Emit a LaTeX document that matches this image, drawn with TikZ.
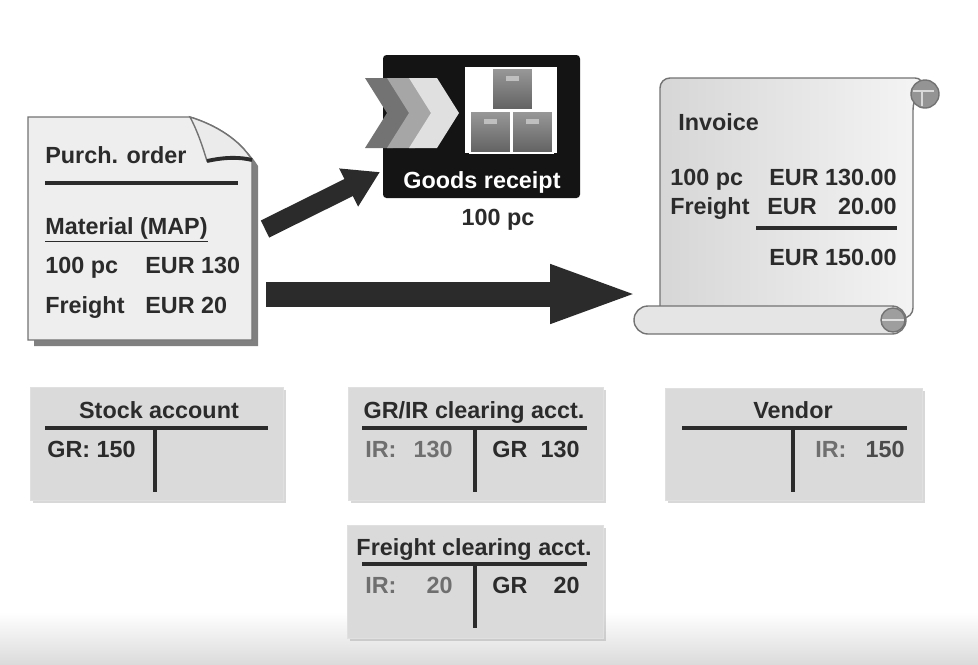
\documentclass[tikz,border=0pt]{standalone}
\usepackage{fontspec}
\setmainfont{Liberation Sans}
\usetikzlibrary{arrows.meta,shadows}

\definecolor{ink}{HTML}{2B2B2B}
\definecolor{irgray}{HTML}{6F6F6F}
\definecolor{paper}{HTML}{EEEEEE}
\definecolor{acctfill}{HTML}{DADADA}

\begin{document}
\begin{tikzpicture}[x=0.02cm, y=-0.02cm,
  every node/.style={inner sep=0pt, text=ink, font=\fontsize{13.3}{16}\selectfont\bfseries},
  lt/.style={anchor=base west},
  rt/.style={anchor=base east},
  ct/.style={anchor=base},
  acct/.style={fill=acctfill, draw=black!12,
    drop shadow={shadow xshift=1.5pt, shadow yshift=-1.5pt, opacity=.3}},
  tbar/.style={line width=2.2pt, ink},
  edge line/.style={draw=black!55, line width=0.8pt},
  fat/.style={line width=0.5cm, ink, -{Triangle[length=1.82cm, width=1.04cm]}},
  slim/.style={line width=0.38cm, ink, -{Triangle[length=0.7cm, width=0.8cm]}},
  crate/.style={top color=black!40, bottom color=black!62, draw=white, line width=0.6pt}
]
  \useasboundingbox (0,0) rectangle (978,664);
  \fill[white] (0,0) rectangle (978,664);
  \shade[top color=white, bottom color=black!14] (0,612) rectangle (978,664);

  % purchase order sheet with dog-ear
  \fill[black!50] (34,123) -- (196,123) .. controls (222,131) and (246,146) .. (258,166)
    -- (258,346) -- (34,346) -- cycle;
  \fill[paper, edge line] (28,117) -- (190,117) .. controls (216,125) and (240,140) .. (252,160)
    -- (252,340) -- (28,340) -- cycle;
  \fill[black!8, edge line] (190,117) .. controls (198,132) and (203,148) .. (207,161)
    .. controls (225,156) and (240,156) .. (252,160)
    .. controls (240,140) and (216,125) .. (190,117) -- cycle;
  \draw[line width=2.2pt, ink] (207,161) .. controls (225,157) and (240,157) .. (252,160);

  \node[lt] (po-title) at (45,163) {Purch. order};
  \draw[tbar] (45,183) -- (238,183);
  \node[lt] (po-mat) at (45,234) {\underline{Material (MAP)}};
  \node[lt] (po-qty) at (45,273) {100 pc};
  \node[lt] (po-val) at (145,273) {EUR 130};
  \node[lt] (po-frt) at (45,313) {Freight};
  \node[lt] (po-fval) at (145,313) {EUR 20};

  % goods receipt tile
  \fill[black!92, rounded corners=2pt] (383,55) rectangle (580,198);
  \foreach \x/\c in {365/black!55, 387/black!35, 409/black!12}
    \fill[\c] (\x,78) -- ++(28,0) -- ++(22,35) -- ++(-22,35) -- ++(-28,0) -- ++(22,-35) -- cycle;
  \fill[white] (465,67) rectangle (557,153);
  \foreach \x/\y in {492/68, 470/111, 512/111} {
    \shade[crate] (\x,\y) rectangle ++(41,42);
    \fill[black!25] (\x+14,\y+8) rectangle ++(13,5);
  }
  \node[ct, text=white] (gr) at (482,188) {Goods receipt};
  \node[ct] (gr-qty) at (498,225) {100 pc};

  % invoice scroll
  \shade[left color=black!16, right color=black!4, edge line, rounded corners=0.2cm]
    (660,318) -- (660,78) -- (925,78) -- (913,100) -- (913,318) -- cycle;
  \filldraw[fill=black!42, edge line] (925,94) circle (14);
  \draw[black!15, line width=0.8pt] (913,91) -- (934,91) (922,91) -- (922,106);
  \filldraw[fill=black!10, edge line, rounded corners=0.28cm] (634,306) rectangle (906,334);
  \filldraw[fill=black!38, edge line] (893,320) circle (12);
  \draw[black!12, line width=0.8pt] (882,320) -- (904,320);

  \node[lt] (inv-title) at (678,130) {Invoice};
  \node[lt] (inv-qty) at (670,185) {100 pc};
  \node[rt] (inv-val) at (897,185) {EUR 130.00};
  \node[lt] (inv-frt) at (670,214) {Freight};
  \node[lt] (inv-eur) at (767,214) {EUR};
  \node[rt] (inv-fval) at (897,214) {20.00};
  \draw[tbar] (756,228) -- (897,228);
  \node[rt] (inv-sum) at (897,265) {EUR 150.00};

  % flows
  \coordinate (po-up) at (265,229);
  \coordinate (gr-in) at (380,172);
  \coordinate (po-out) at (266,294);
  \coordinate (inv-in) at (641,294);
  \path[slim] (po-up) edge (gr-in);
  \path[fat] (po-out) edge (inv-in);

  % T-accounts
  \path[acct] (30,387) rectangle (283,500);
  \node[ct] (stock) at (159,418) {Stock account};
  \draw[tbar] (45,428) -- (268,428) (155,428) -- (155,492);
  \node[lt] (stock-gr) at (47,457) {GR: 150};

  \path[acct] (348,387) rectangle (603,500);
  \node[ct] (grir) at (474,418) {GR/IR clearing acct.};
  \draw[tbar] (362,428) -- (587,428) (475,428) -- (475,492);
  \node[lt, text=irgray] (grir-ir) at (365,457) {IR:};
  \node[rt, text=irgray] (grir-irv) at (453,457) {130};
  \node[lt] (grir-gr) at (492,457) {GR};
  \node[rt] (grir-grv) at (580,457) {130};

  \path[acct] (665,388) rectangle (922,500);
  \node[ct] (vendor) at (793,418) {Vendor};
  \draw[tbar] (682,428) -- (907,428) (793,428) -- (793,492);
  \node[lt, text=irgray] (vendor-ir) at (815,457) {IR:};
  \node[rt, text=ink!85] (vendor-irv) at (905,457) {150};

  \path[acct] (347,525) rectangle (603,638);
  \node[ct] (frt) at (474,555) {Freight clearing acct.};
  \draw[tbar] (362,564) -- (587,564) (475,564) -- (475,628);
  \node[lt, text=irgray] (frt-ir) at (365,593) {IR:};
  \node[rt, text=irgray] (frt-irv) at (453,593) {20};
  \node[lt] (frt-gr) at (492,593) {GR};
  \node[rt] (frt-grv) at (580,593) {20};
\end{tikzpicture}
\end{document}
